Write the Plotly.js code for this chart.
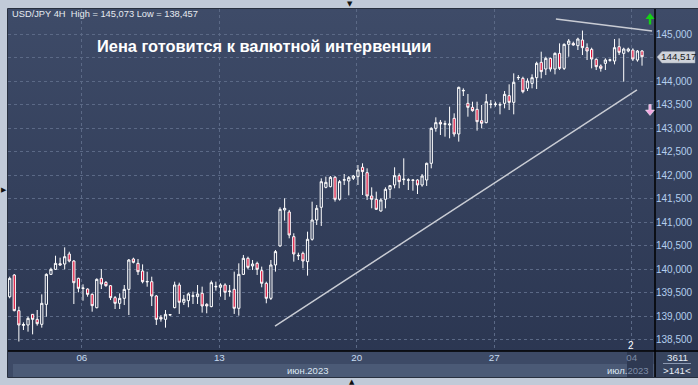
<!DOCTYPE html>
<html><head><meta charset="utf-8">
<script src="https://cdn.plot.ly/plotly-3.0.1.min.js"></script>
<style>
html,body{margin:0;padding:0;background:#c1cad8;}
#wrap{position:relative;width:698px;height:385px;background:#c1cad8;overflow:hidden;}
#bg{position:absolute;left:8px;top:9px;width:690px;height:369px;background:linear-gradient(to bottom,#3e4b68,#2a3550);}
#chart{position:absolute;left:0;top:0;width:698px;height:385px;}
</style></head><body>
<div id="wrap"><div id="bg"></div><div id="chart"></div></div>
<script>
// USD/JPY 4H candles
const openP = [139.411,139.872,139.114,138.800,138.809,139.036,138.929,138.823,139.248,139.886,
139.993,140.113,140.106,140.319,140.170,139.801,139.585,139.574,139.461,139.177,
139.801,139.716,139.645,139.390,139.270,139.376,139.567,140.213,140.120,139.957,
139.725,139.730,139.426,138.972,138.929,139.020,139.178,139.660,139.292,139.327,
139.420,139.412,139.483,139.249,139.200,139.620,139.611,139.660,139.520,139.568,
139.164,139.887,140.228,140.065,140.121,139.965,139.696,139.377,140.086,140.490,
141.256,141.213,140.688,140.280,140.334,140.157,140.632,141.043,141.313,141.738,
141.752,141.951,141.483,141.890,141.873,141.930,141.965,142.164,142.050,141.554,
141.483,141.235,141.483,141.696,141.788,141.986,141.900,141.890,141.885,141.894,
141.788,141.894,142.249,142.993,143.121,143.080,143.064,143.206,142.873,143.790,
143.525,143.440,143.397,143.156,143.114,143.500,143.500,143.490,143.525,143.688,
143.546,144.070,144.057,143.844,143.950,144.071,144.397,144.255,144.482,144.255,
144.588,144.269,144.780,144.801,144.752,144.872,144.709,144.673,144.461,144.319,
144.376,144.440,144.425,144.730,144.588,144.638,144.659,144.447,144.638];
const highP = [139.837,139.893,139.199,138.865,138.986,139.043,139.128,139.461,139.908,140.028,
140.283,140.241,140.461,140.368,140.191,139.815,139.674,139.589,139.482,139.801,
140.000,139.745,139.660,139.426,139.482,139.660,140.213,140.241,140.213,140.099,
139.943,139.837,139.447,139.021,139.128,139.036,139.731,139.710,139.448,139.497,
139.519,139.660,139.625,139.271,139.753,139.731,139.696,139.696,139.660,139.944,
140.121,140.299,140.263,140.192,140.157,140.051,139.731,140.192,140.405,141.313,
141.504,141.256,140.760,140.348,140.370,140.795,141.433,141.362,141.929,141.965,
141.979,141.979,141.894,142.022,141.979,142.001,142.213,142.249,142.142,141.738,
141.646,141.504,141.738,141.788,142.164,142.036,142.355,141.930,141.900,141.910,
142.022,142.263,143.015,143.227,143.171,143.156,143.454,143.312,143.880,143.844,
143.724,143.560,143.560,143.490,143.724,143.596,143.560,143.546,143.787,143.929,
144.163,144.127,144.092,144.057,144.142,144.411,144.624,144.517,144.496,144.610,
144.801,144.801,144.893,144.837,144.922,145.073,144.801,144.709,144.482,144.354,
144.482,144.475,144.893,144.907,144.709,144.709,144.695,144.659,144.659];
const lowP = [139.376,139.100,138.457,138.702,138.667,138.610,138.795,138.752,138.986,139.872,
139.979,140.071,139.993,140.142,139.255,139.504,139.326,139.411,139.092,139.163,
139.574,139.624,139.340,139.149,139.149,139.234,139.021,140.120,139.872,139.695,
139.624,139.213,138.809,138.880,138.752,139.007,139.164,139.044,139.235,139.186,
139.256,139.256,139.072,139.058,139.186,139.540,139.412,139.341,139.412,139.044,
139.008,139.873,139.994,139.980,139.873,139.611,139.271,139.341,139.944,140.476,
141.029,140.653,140.157,140.192,140.015,139.859,140.604,140.937,140.916,141.717,
141.738,141.434,141.455,141.788,141.567,141.894,141.788,141.575,141.469,141.292,
141.256,141.221,141.292,141.504,141.717,141.717,141.788,141.681,141.667,141.596,
141.752,141.767,142.142,142.922,142.851,142.816,142.781,142.816,142.710,143.681,
143.241,143.348,142.944,142.993,143.100,143.419,143.454,143.291,143.419,143.383,
143.291,144.021,143.738,143.787,143.844,143.830,144.057,144.127,144.200,144.142,
144.234,144.234,144.517,144.752,144.659,144.553,144.447,144.269,144.234,144.200,
144.234,144.410,144.354,144.553,143.986,144.610,144.425,144.411,144.326];
const closeP = [139.801,139.114,138.809,138.820,138.950,138.929,138.837,139.270,139.886,139.993,
140.120,140.085,140.262,140.170,139.709,139.589,139.595,139.461,139.220,139.780,
139.681,139.645,139.390,139.270,139.376,139.567,140.191,140.142,139.943,139.730,
139.735,139.426,138.929,138.936,139.036,139.030,139.660,139.292,139.356,139.469,
139.430,139.469,139.214,139.214,139.710,139.630,139.660,139.505,139.530,139.164,
139.887,140.228,140.036,140.107,139.994,139.696,139.377,140.086,140.370,141.270,
141.291,140.724,140.320,140.290,140.171,140.632,141.043,141.291,141.858,141.844,
141.951,141.483,141.859,141.900,141.944,141.979,142.107,142.072,141.554,141.483,
141.270,141.469,141.696,141.774,141.986,141.859,141.910,141.895,141.894,141.788,
141.979,142.249,142.993,143.114,143.085,143.090,143.085,142.873,143.865,143.800,
143.440,143.369,143.135,143.100,143.560,143.505,143.510,143.495,143.716,143.546,
143.972,144.075,143.773,144.000,144.071,144.376,144.200,144.482,144.255,144.588,
144.269,144.780,144.851,144.766,144.893,144.709,144.638,144.468,144.305,144.269,
144.447,144.450,144.709,144.610,144.680,144.680,144.468,144.638,144.517];

const dayTickPos = [15.75, 45.75, 75.75, 105.75, 135.75];
const dayTickText = ['06','13','20','27','<span style="color:#7d8ba5">04</span>'];
const priceTicks = [138.5,139.0,139.5,140.0,140.5,141.0,141.5,142.0,142.5,143.0,143.5,144.0,144.5,145.0];
const lastPrice = 144.517;
const trendLowerX = [57.9, 136.9], trendLowerY = [138.787, 143.809];
const trendUpperX = [119.2, 140.2], trendUpperY = [145.319, 145.064];

const xIdx = openP.map((_, i) => i);
// the 144,500 label sits under the current-price label in the reference
const priceTickText = priceTicks.map(v => Math.abs(v - lastPrice) < 0.1 ? '' : v.toFixed(3).replace('.', ','));

// pixel -> paper helpers (plot area: x 8..655, y 9..350)
const X = p => (p - 8) / 647;
const Y = p => (350 - p) / 341;
const path = pts => 'M' + pts.map(q => X(q[0]) + ',' + Y(q[1])).join(' L') + ' Z';

const trace = {
  type: 'candlestick', x: xIdx, open: openP, high: highP, low: lowP, close: closeP,
  increasing: {line: {color: '#ffffff', width: 1}, fillcolor: 'rgba(0,0,0,0)'},
  decreasing: {line: {color: '#ffffff', width: 1}, fillcolor: '#dc143c'},
  whiskerwidth: 0, hoverinfo: 'skip', showlegend: false
};

const shapes = [
  {type:'rect', xref:'paper', yref:'paper', x0:X(8), x1:X(655), y0:Y(378), y1:Y(351), fillcolor:'#3d4a66', line:{width:0}, layer:'below'},
  {type:'rect', xref:'paper', yref:'paper', x0:X(13), x1:X(655), y0:Y(377), y1:Y(364), fillcolor:'#4b5a76', line:{width:0}, layer:'below'},
  {type:'rect', xref:'paper', yref:'paper', x0:X(627), x1:X(653), y0:Y(377), y1:Y(352), fillcolor:'#2e3952', line:{width:0}, layer:'below'},
  {type:'rect', xref:'paper', yref:'paper', x0:X(656), x1:X(698), y0:Y(378), y1:Y(352), fillcolor:'#37445e', line:{width:0}, layer:'below'},
  {type:'line', xref:'paper', yref:'paper', x0:X(663), x1:X(691), y0:Y(363.5), y1:Y(363.5), line:{color:'#8a98b0', width:1}},
  {type:'line', xref:'paper', yref:'paper', x0:X(655), x1:X(655), y0:Y(9), y1:Y(378), line:{color:'#000000', width:1.5}},
  {type:'line', xref:'paper', yref:'paper', x0:X(8), x1:X(698), y0:Y(351), y1:Y(351), line:{color:'#000000', width:1.5}},
  {type:'rect', xref:'paper', yref:'paper', x0:X(7.5), x1:X(699), y0:Y(377.5), y1:Y(8.5), line:{color:'#28303f', width:1}, fillcolor:'rgba(0,0,0,0)'},
  {type:'line', xref:'x', yref:'y', x0:trendLowerX[0], x1:trendLowerX[1], y0:trendLowerY[0], y1:trendLowerY[1], line:{color:'#c9ccd4', width:1.5}},
  {type:'line', xref:'x', yref:'y', x0:trendUpperX[0], x1:trendUpperX[1], y0:trendUpperY[0], y1:trendUpperY[1], line:{color:'#c9ccd4', width:1.5}},
  // current price label box with pointer
  {type:'path', xref:'paper', yref:'paper', path:path([[657,57],[662,51.5],[695,51.5],[695,63],[662,63]]), fillcolor:'#cfd3db', line:{color:'#9aa0aa', width:0.5}},
  // green up arrow
  {type:'path', xref:'paper', yref:'paper', path:path([[650,13],[654.5,19],[651.2,19],[651.2,24.5],[648.8,24.5],[648.8,19],[645.5,19]]), fillcolor:'#16d216', line:{width:0}},
  // pink down arrow
  {type:'path', xref:'paper', yref:'paper', path:path([[648.8,104.5],[651.2,104.5],[651.2,110],[654.5,110],[650,115.5],[645.5,110],[648.8,110]]), fillcolor:'#f2a6e2', line:{color:'#ffffff', width:0.5}}
];

const f = 'Liberation Sans, Arial, sans-serif';
const annotations = [
  {xref:'paper', yref:'paper', x:X(10), y:Y(14.5), xanchor:'left', yanchor:'middle', showarrow:false,
   text:'USD/JPY 4H  High = 145,073 Low = 138,457', font:{family:f, size:9.3, color:'#e6eaf0'}},
  {xref:'paper', yref:'y', x:X(678.5), y:lastPrice, xanchor:'center', yanchor:'middle', showarrow:false,
   text:'144,517', font:{family:f, size:9.8, color:'#1a1a1a'}},
  {xref:'paper', yref:'paper', x:X(631), y:Y(345), xanchor:'center', yanchor:'middle', showarrow:false,
   text:'2', font:{family:f, size:10, color:'#ffffff'}},
  {xref:'paper', yref:'paper', x:X(330), y:Y(370.5), xanchor:'right', yanchor:'middle', showarrow:false,
   text:'июн.2023', font:{family:f, size:9.5, color:'#dce6f2'}},
  {xref:'paper', yref:'paper', x:X(651), y:Y(370.5), xanchor:'right', yanchor:'middle', showarrow:false,
   text:'июл.<span style="color:#7d8ba5">2023</span>', font:{family:f, size:9.5, color:'#dce6f2'}},
  {xref:'paper', yref:'paper', x:X(677), y:Y(357.5), xanchor:'center', yanchor:'middle', showarrow:false,
   text:'3611', font:{family:f, size:9.8, color:'#e8eef6'}},
  {xref:'paper', yref:'paper', x:X(677), y:Y(370.5), xanchor:'center', yanchor:'middle', showarrow:false,
   text:'&gt;141&lt;', font:{family:f, size:9.8, color:'#e8eef6'}},
  {xref:'paper', yref:'paper', x:X(350), y:Y(3.5), xanchor:'center', yanchor:'middle', showarrow:false,
   text:'▼', font:{family:'DejaVu Sans', size:7, color:'#111'}},
  {xref:'paper', yref:'paper', x:X(3.5), y:Y(190), xanchor:'center', yanchor:'middle', showarrow:false,
   text:'▶', font:{family:'DejaVu Sans', size:7, color:'#111'}},
  {xref:'paper', yref:'paper', x:X(352), y:Y(381.5), xanchor:'center', yanchor:'middle', showarrow:false,
   text:'▲', font:{family:'DejaVu Sans', size:7, color:'#111'}}
];

const layout = {
  width: 698, height: 385,
  margin: {l: 8, r: 43, t: 9, b: 35, pad: 0},
  paper_bgcolor: 'rgba(0,0,0,0)', plot_bgcolor: 'rgba(0,0,0,0)',
  separators: ',.',
  font: {family: f},
  showlegend: false,
  title: {text: 'Иена готовится к валютной интервенции', xref: 'paper', x: X(97), xanchor: 'left',
          yref: 'container', y: 1 - 46/385, yanchor: 'middle',
          font: {family: f, size: 16.4, weight: 'bold', color: '#ffffff'}},
  xaxis: {range: [-0.37, 140.83], tickvals: dayTickPos, ticktext: dayTickText,
          showgrid: true, gridcolor: '#5b6986', griddash: '3px,3px', gridwidth: 1,
          zeroline: false, showline: false, ticks: '', rangeslider: {visible: false},
          tickfont: {family: f, size: 9.8, color: '#c8dcf2'}, fixedrange: true},
  yaxis: {side: 'right', range: [138.277, 145.532], tickvals: priceTicks, ticktext: priceTickText,
          showgrid: true, gridcolor: '#5b6986', griddash: '3px,3px', gridwidth: 1,
          zeroline: false, showline: false, ticks: '',
          tickfont: {family: f, size: 10, color: '#b4cfee'}, fixedrange: true},
  shapes: shapes, annotations: annotations
};

Plotly.newPlot('chart', [trace], layout, {staticPlot: true, displayModeBar: false});
</script>
</body></html>
